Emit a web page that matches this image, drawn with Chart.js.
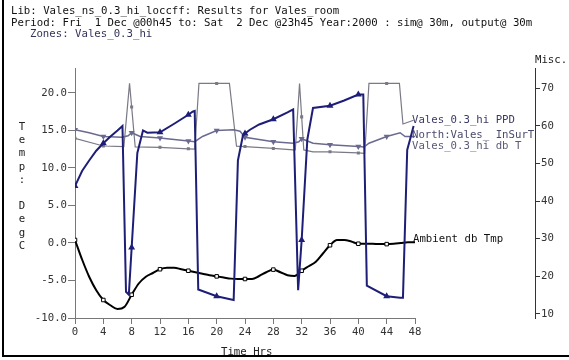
<!DOCTYPE html>
<html>
<head>
<meta charset="utf-8">
<script src="https://cdn.jsdelivr.net/npm/chart.js@4/dist/chart.umd.min.js"></script>
<style>
  html, body { margin: 0; padding: 0; background: #fff; }
  #wrap { position: relative; width: 569px; height: 360px; overflow: hidden;
          font: 10.7px "DejaVu Sans Mono", monospace; color: #111; }
  #wrap canvas { position: absolute; left: 0; top: 0; }
  .t { position: absolute; white-space: pre; line-height: 12px; }
  .frame { position: absolute; background: #000; }
</style>
</head>
<body>
<div id="wrap">
  <canvas id="c" width="569" height="360"></canvas>
  <div class="frame" style="left:2px;top:0;width:2px;height:357px"></div>
  <div class="frame" style="left:2px;top:355px;width:567px;height:2px"></div>

  <div class="t" style="left:11px;top:5px">Lib: Vales_ns_0.3_hi_loccff: Results for Vales_room</div>
  <div class="t" style="left:11px;top:16.5px">Period: Fri  1 Dec @00h45 to: Sat  2 Dec @23h45 Year:2000 : sim@ 30m, output@ 30m</div>
  <div class="t" style="left:30px;top:28px;color:#33335a">Zones: Vales_0.3_hi</div>

  <div class="t" style="left:18px;top:120px;width:8px;text-align:center;line-height:13.2px;color:#222">T
e
m
p
:

D
e
g
C</div>
  <div class="t" style="left:535px;top:54px;color:#222">Misc.</div>
  <div class="t" style="left:221px;top:346px;color:#222">Time Hrs</div>

  <div class="t" style="left:412px;top:114px;color:#3a3a66">Vales_0.3_hi PPD</div>
  <div class="t" style="left:412px;top:129px;color:#4a4a6e">North:Vales_ InSurT</div>
  <div class="t" style="left:412px;top:140px;color:#5a5a78">Vales_0.3_hi db T</div>
  <div class="t" style="left:413px;top:233px;color:#111">Ambient db Tmp</div>
</div>

<script>
// axis ticks
const xTicks    = [0, 4, 8, 12, 16, 20, 24, 28, 32, 36, 40, 44, 48];
const tempTicks = [-10, -5, 0, 5, 10, 15, 20];
const miscTicks = [10, 20, 30, 40, 50, 60, 70];

// Ambient db Tmp (degC), hourly
const ambT = [0, 1, 2, 3, 4, 5, 6, 7, 8, 9, 10, 11, 12, 13, 14, 15, 16, 17, 18, 19, 20, 21, 22, 23, 24,
              25, 26, 27, 28, 29, 30, 31, 32, 33, 34, 35, 36, 37, 38, 39, 40, 41, 42, 43, 44, 45, 46, 47, 48];
const ambV = [0.4, -2.2, -4.5, -6.3, -7.6, -8.3, -8.8, -8.5, -6.9, -5.4, -4.5, -4.0, -3.5, -3.3, -3.3, -3.5, -3.7,
              -3.9, -4.1, -4.3, -4.45, -4.6, -4.75, -4.8, -4.8, -4.8, -4.4, -3.9, -3.55, -3.9, -4.3, -4.4, -3.7,
              -3.1, -2.5, -1.4, -0.3, 0.4, 0.4, 0.2, -0.1, -0.1, -0.1, -0.15, -0.15, -0.1, 0.0, 0.1, 0.1];

// Vales_0.3_hi db T (degC)
const dbT_t = [0, 1, 2, 3, 4, 5, 6, 6.7, 7.2, 7.6, 8, 8.8, 9.6, 10.2, 12, 14, 16, 16.6, 16.9, 17.4, 20, 21.9,
               22.4, 23, 23.7, 24, 24.7, 26, 28, 30, 30.8, 31.5, 32, 32.8, 33.6, 36, 38, 40, 40.7, 41.2, 44,
               45.9, 46.3, 46.9, 47.3, 47.8];
const dbT_v = [7.6, 9.6, 11.0, 12.3, 13.3, 14.2, 15.0, 15.6, -6.5, -6.9, -0.6, 12.0, 15.0, 14.7, 14.75, 15.9, 17.1,
               17.5, 17.6, -6.2, -7.1, -7.5, -7.6, 11.0, 14.3, 14.6, 15.1, 15.8, 16.5, 17.4, 17.8, -6.3, 0.4,
               13.8, 18.0, 18.3, 19.0, 19.8, 19.8, -5.7, -7.1, -7.3, -7.3, 12.4, 13.8, 15.6];

// North:Vales_ InSurT (degC)
const surT_t = [0, 2, 4, 6.6, 7.5, 8, 9.2, 12, 16, 16.9, 18, 20, 22.4, 23.3, 24, 28, 30.8, 31.6, 32, 33.6,
                36, 40, 40.8, 41.5, 44, 45.9, 46.6, 48];
const surT_v = [15.1, 14.7, 14.2, 14.1, 14.3, 14.7, 14.2, 14.0, 13.6, 13.5, 14.2, 15.0, 15.1, 14.9, 14.1, 13.5,
                13.3, 13.5, 13.9, 13.3, 13.1, 12.85, 12.8, 13.3, 14.2, 14.7, 14.2, 14.2];

// Vales_0.3_hi PPD (Misc. axis)
const ppd_t = [0, 4, 6.9, 7.7, 8, 8.5, 12, 16, 16.9, 17.5, 20, 21.8, 22.8, 24, 28, 30.8, 31.1, 31.7, 32, 32.3,
               33.6, 36, 40, 40.9, 41.5, 44, 45.8, 46.3, 47.8];
const ppd_v = [56.7, 54.65, 54.5, 71.3, 65.0, 54.4, 54.3, 53.9, 53.8, 71.3, 71.3, 71.3, 54.6, 54.5, 54.0, 53.6,
               53.6, 71.3, 62.4, 53.6, 53.1, 53.1, 52.8, 52.7, 71.3, 71.3, 71.3, 60.5, 61.5];

const NAVY = '#1e1e78';
const SURT = '#6a6a90';
const PPD  = '#7a7a86';
const AXIS = '#777';
const FONT = { family: 'DejaVu Sans Mono', size: 10.7 };

const pts  = (t, v) => t.map((x, i) => ({ x, y: v[i] }));
// markers only every 4 hrs
const mark = r => ctx => (ctx.raw && ctx.raw.x % 4 === 0 && ctx.raw.x < 48) ? r : 0;
const fixTicks = list => s => { s.ticks = list.map(v => ({ value: v })); };

// push the Misc. axis out to the right, clear of the series labels
const moveMisc = {
  id: 'moveMisc',
  afterLayout(chart) {
    const s = chart.scales.y1;
    s.left = 535;
    s.width = s.right - s.left;
  },
};

new Chart(document.getElementById('c'), {
  type: 'line',
  data: {
    datasets: [
      { data: pts(dbT_t, dbT_v), yAxisID: 'y', borderColor: NAVY, borderWidth: 2,
        pointStyle: 'triangle', pointRadius: mark(2), pointBackgroundColor: NAVY, pointBorderColor: NAVY },
      { data: pts(ambT, ambV), yAxisID: 'y', borderColor: '#000', borderWidth: 2, cubicInterpolationMode: 'monotone',
        pointStyle: 'rect', pointRadius: mark(2.5), pointBackgroundColor: '#fff', pointBorderColor: '#000', pointBorderWidth: 1 },
      { data: pts(surT_t, surT_v), yAxisID: 'y', borderColor: SURT, borderWidth: 1.5,
        pointStyle: 'triangle', rotation: 180, pointRadius: mark(2), pointBackgroundColor: SURT, pointBorderColor: SURT },
      { data: pts(ppd_t, ppd_v), yAxisID: 'y1', borderColor: PPD, borderWidth: 1.2,
        pointStyle: 'rect', pointRadius: mark(1.3), pointBackgroundColor: PPD, pointBorderColor: PPD },
    ],
  },
  options: {
    responsive: false,
    animation: false,
    devicePixelRatio: 1,
    layout: { padding: { top: 68, left: 0, right: 0, bottom: 0 } },
    plugins: { legend: { display: false }, tooltip: { enabled: false } },
    elements: { line: { tension: 0 } },
    scales: {
      x: {
        type: 'linear', min: 0, max: 48,
        afterBuildTicks: fixTicks(xTicks),
        afterFit: s => { s.height = 42; },
        grid: { drawOnChartArea: false, tickLength: 6, color: AXIS },
        border: { color: AXIS, width: 1 },
        ticks: { padding: 2, color: '#333', font: FONT, maxRotation: 0, autoSkip: false },
      },
      y: {
        position: 'left', min: -10, max: 23.33,
        afterBuildTicks: fixTicks(tempTicks),
        afterFit: s => { s.width = 75; },
        grid: { drawOnChartArea: false, tickLength: 7, color: AXIS },
        border: { color: AXIS, width: 1 },
        ticks: { padding: 1, color: '#333', font: FONT, callback: v => v.toFixed(1) },
      },
      y1: {
        position: 'right', min: 8.9, max: 75.4,
        afterBuildTicks: fixTicks(miscTicks),
        afterFit: s => { s.width = 154; },
        grid: { drawOnChartArea: false, tickLength: 5, color: '#333' },
        border: { color: '#333', width: 1 },
        ticks: { padding: 1, color: '#333', font: FONT },
      },
    },
  },
  plugins: [moveMisc],
});
</script>
</body>
</html>
